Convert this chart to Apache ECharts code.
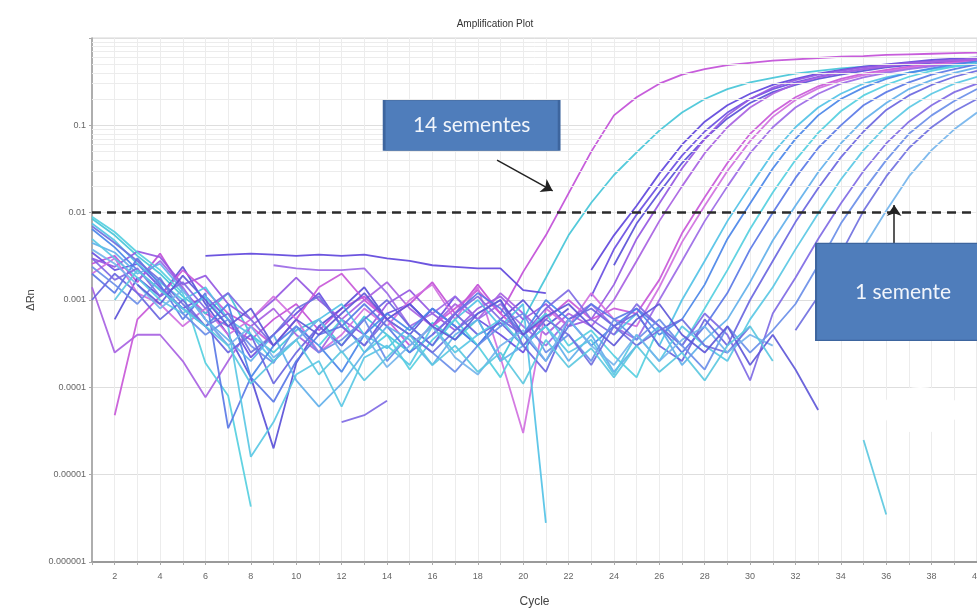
<!DOCTYPE html>
<html>
<head>
<meta charset="utf-8">
<script src="https://cdn.jsdelivr.net/npm/echarts@6/dist/echarts.min.js"></script>
<style>
  html, body { margin: 0; padding: 0; background: #fff; }
  #chart { width: 977px; height: 609px; }
</style>
</head>
<body>
<div id="chart"></div>
<script>
// cycles on the x axis
var cycles = [1, 2, 3, 4, 5, 6, 7, 8, 9, 10, 11, 12, 13, 14, 15, 16, 17, 18, 19, 20,
  21, 22, 23, 24, 25, 26, 27, 28, 29, 30, 31, 32, 33, 34, 35, 36, 37, 38, 39, 40]

var yTickLabels = ['0.000001', '0.00001', '0.0001', '0.001', '0.01', '0.1', '']
var threshold = 0.0127

// ΔRn per well, cycle 1..40 (null = not drawn)
var well01 = [2.6e-3, 3.2e-3, 1.6e-3, 3.4e-3, 1.3e-3, 7e-4, 5e-4, 3.5e-4, 6e-4, 9e-4, 4.5e-4, 8e-4, 1.1e-3, 6e-4, 9e-4, 1.6e-3, 7e-4, 1.5e-3, 7e-4, 2.1e-3, 5.5e-3, 0.0166, 0.05, 0.13, 0.21, 0.3, 0.38, 0.44, 0.49, 0.52, 0.55, 0.57, 0.59, 0.61, 0.62, 0.64, 0.65, 0.66, 0.67, 0.68]
var well02 = [8.5e-3, 5.5e-3, 3.2e-3, 2e-3, 1.1e-3, 7e-4, 1.2e-3, 4e-4, 2.5e-4, 4.5e-4, 6e-4, 3e-4, 6.5e-4, 4e-4, 2.5e-4, 5.5e-4, 3.5e-4, 6e-4, 2e-4, 6e-4, 1.8e-3, 5.5e-3, 0.013, 0.027, 0.049, 0.087, 0.14, 0.2, 0.26, 0.31, 0.35, 0.39, 0.42, 0.45, 0.47, 0.49, 0.51, 0.53, 0.54, 0.56]
var well03 = [null, null, null, null, null, 3.2e-3, 3.3e-3, 3.4e-3, 3.3e-3, 3.2e-3, 3.3e-3, 3.2e-3, 3.3e-3, 3.0e-3, 2.8e-3, 2.5e-3, 2.4e-3, 2.3e-3, 2.3e-3, 1.3e-3, 1.2e-3, null, 2.2e-3, 5.5e-3, 0.012, 0.028, 0.06, 0.11, 0.17, 0.23, 0.29, 0.34, 0.39, 0.43, 0.47, 0.5, 0.53, 0.56, 0.58, 0.6]
var well04 = [3.5e-3, 2.2e-3, 2.6e-3, 1.4e-3, 8e-4, 1.1e-3, 6e-4, 2.2e-4, 4e-4, 7e-4, 1.2e-3, 5e-4, 3e-4, 7e-4, 9e-4, 5e-4, 1.1e-3, 6e-4, 4e-4, 2.5e-4, 7e-4, null, 1.1e-3, 3.8e-3, 9.5e-3, 0.021, 0.045, 0.085, 0.14, 0.2, 0.26, 0.31, 0.36, 0.4, 0.44, 0.47, 0.5, 0.53, 0.55, 0.57]
var well05 = [null, 6e-4, 1.8e-3, 1.1e-3, 2.4e-3, 9e-4, 4e-4, 1.3e-4, 2e-5, 1.9e-4, 5e-4, 8e-4, 1.4e-3, 6e-4, 4e-4, 8e-4, 5e-4, 3e-4, 6e-4, 1e-3, 5e-4, 8e-4, null, 2.5e-3, 7.5e-3, 0.017, 0.037, 0.07, 0.12, 0.18, 0.24, 0.29, 0.34, 0.38, 0.42, 0.46, 0.49, 0.52, 0.54, 0.56]
var well06 = [3e-3, 2.4e-3, 3.6e-3, 3.1e-3, 1.5e-3, 1.9e-3, 9e-4, 6e-4, 1e-3, 1.8e-3, 1e-3, 6e-4, 4e-4, 9e-4, 1.3e-3, 7e-4, 4.5e-4, 8e-4, 1.1e-3, 6e-4, 9e-4, 5e-4, 6e-4, 1.5e-3, 5e-3, 0.0127, 0.032, 0.07, 0.13, 0.2, 0.27, 0.33, 0.38, 0.42, 0.46, 0.49, 0.52, 0.54, 0.56, 0.58]
var well07 = [1.4e-3, 2.5e-4, 4e-4, 4e-4, 2e-4, 7.7e-5, 2e-4, 5e-4, 8e-4, 4e-4, 2.5e-4, 6e-4, 1e-3, 1.6e-3, 8e-4, 5e-4, 9e-4, 6e-4, 1.2e-3, 7e-4, 4e-4, 7e-4, 5e-4, 1e-3, 2.8e-3, 8e-3, 0.02, 0.048, 0.095, 0.16, 0.23, 0.3, 0.355, 0.4, 0.44, 0.475, 0.505, 0.53, 0.55, 0.57]
var well08 = [null, 4.8e-5, 6e-4, 1.1e-3, 2.2e-3, 1.3e-3, 7e-4, 5e-4, 3e-4, 6e-4, 1.4e-3, 2e-3, 1e-3, 6e-4, 3e-4, 5e-4, 8e-4, 1.3e-3, 7e-4, 4e-4, 6e-4, 1e-3, 6e-4, 8e-4, 7e-4, 1.7e-3, 5.8e-3, 0.015, 0.037, 0.08, 0.14, 0.21, 0.28, 0.34, 0.39, 0.43, 0.47, 0.5, 0.53, 0.55]
var well09 = [2e-3, 3e-3, 1.2e-3, 9e-4, 5e-4, 8e-4, 4e-4, 6e-4, 1.1e-3, 6e-4, 2.5e-4, 4e-4, 8e-4, 5e-4, 1e-3, 1.5e-3, 6e-4, 1.4e-3, 2.2e-4, 3e-5, 8e-4, 5e-4, 1.2e-3, 6e-4, 5e-4, 1.4e-3, 4.6e-3, 0.012, 0.03, 0.066, 0.125, 0.195, 0.265, 0.325, 0.375, 0.415, 0.455, 0.485, 0.515, 0.54]
var well10 = [null, null, 1.7e-3, 2.8e-3, 1.4e-3, 6e-4, 3e-4, null, 2.5e-3, 2.3e-3, 2.2e-3, 2.2e-3, 2.3e-3, 1.2e-3, 5e-4, 7e-4, 1.1e-3, 6e-4, 9e-4, 5e-4, 3e-4, 6e-4, 9e-4, 5e-4, 3.5e-4, 1e-3, 2.8e-3, 8e-3, 0.02, 0.048, 0.095, 0.16, 0.23, 0.3, 0.355, 0.4, 0.44, 0.475, 0.505, 0.53]
var well11 = [7.5e-3, 4.8e-3, 2.6e-3, 1.6e-3, 1e-3, 1.4e-3, 6e-4, 4e-4, 2e-4, 3.5e-4, 6e-4, 9e-4, 4e-4, 2.8e-4, 5e-4, 3e-4, 6e-4, 1e-3, 5e-4, 9e-4, 2.8e-6, null, null, 4e-4, 7e-4, 3e-4, 1e-3, 2.8e-3, 8e-3, 0.02, 0.048, 0.095, 0.16, 0.23, 0.3, 0.355, 0.4, 0.44, 0.475, 0.5]
var well12 = [6.5e-3, 4e-3, 2.2e-3, 1.3e-3, 8e-4, 5e-4, 9e-4, 1.3e-4, 3e-4, 5e-4, 3e-4, 1.5e-4, 4e-4, 7e-4, 4.5e-4, 8e-4, 5e-4, 3e-4, 6e-4, 4e-4, 1e-3, 6e-4, 3e-4, 5e-4, 8e-4, 4e-4, 6e-4, 1.5e-3, 5e-3, 0.0127, 0.032, 0.07, 0.13, 0.2, 0.27, 0.34, 0.4, 0.45, 0.5, 0.54]
var well13 = [9e-3, 6e-3, 3.5e-3, 2.2e-3, 1.2e-3, 1.9e-4, 8e-5, 4.3e-6, null, null, 3e-4, 6e-4, 2.5e-4, 4e-4, 1.6e-4, 3.5e-4, 6e-4, 3e-4, 1.3e-4, 4e-4, 7e-4, 3e-4, 4.5e-4, 2.3e-4, 1.3e-4, 5e-4, 3e-4, 8e-4, 2.2e-3, 6.5e-3, 0.017, 0.04, 0.082, 0.145, 0.22, 0.29, 0.36, 0.42, 0.47, 0.52]
var well14 = [2e-3, 1.2e-3, 3e-3, 1.5e-3, 6e-4, 1.2e-3, 3.4e-5, 1.3e-4, 6.8e-5, 2e-4, 4e-4, 5e-4, 9e-4, 5e-4, 2.5e-4, 4e-4, 7e-4, 1.2e-3, 8e-4, 4e-4, 2e-4, 5e-4, 9e-4, 6e-4, 8e-4, 5e-4, 2.5e-4, 5e-4, 1.2e-3, 3.8e-3, 0.01, 0.025, 0.055, 0.1, 0.17, 0.24, 0.31, 0.38, 0.44, 0.5]
var well15 = [4.5e-3, 3.5e-3, 2e-3, 2.6e-3, 1.3e-3, 6e-4, 3.5e-4, 2e-4, 4e-4, 1.2e-4, 6e-5, 1.1e-4, 2.5e-4, 5e-4, 3.5e-4, 1.8e-4, 4e-4, 6e-4, 2e-4, 3e-4, 5e-4, 2e-4, 4e-4, 1.5e-4, 3e-4, 5e-4, 1.8e-4, 3.5e-4, 6e-4, 1.6e-3, 4.8e-3, 0.012, 0.029, 0.062, 0.115, 0.18, 0.26, 0.33, 0.4, 0.46]
var well16 = [1e-3, 2e-3, 1.2e-3, 6e-4, 1e-3, 5e-4, 2.5e-4, 4e-4, 1.1e-4, 2.5e-4, 5e-4, 3e-4, 6e-4, 1e-3, 5e-4, 3e-4, 7e-4, 4e-4, 5.5e-4, 3e-4, 1.5e-4, 6e-4, 8e-4, 5e-4, 7e-4, 3e-4, 2e-4, 6e-4, 3e-4, 1e-3, 2.8e-3, 7.8e-3, 0.019, 0.043, 0.085, 0.15, 0.22, 0.29, 0.36, 0.42]
var well17 = [5e-3, 3e-3, 1.8e-3, 1e-3, 7e-4, 1.1e-3, 5e-4, 1.6e-5, 4e-5, 1.4e-4, 2e-4, 6e-5, 2.2e-4, 3e-4, 1.8e-4, 5e-4, 2.5e-4, 4e-4, 6e-4, 3e-4, 5e-4, 2.5e-4, 3.5e-4, 1.4e-4, 4e-4, 2e-4, 5e-4, 3e-4, 2e-4, 6e-4, 1.4e-3, 3.8e-3, 9.8e-3, 0.024, 0.052, 0.098, 0.16, 0.23, 0.3, 0.36]
var well18 = [3e-3, 1.7e-3, 2.3e-3, 1.1e-3, 1.6e-3, 8e-4, 1.2e-3, 6e-4, 3e-4, null, null, 4e-5, 4.8e-5, 7e-5, null, 4e-4, 7e-4, 1.1e-3, 6e-4, 4e-4, 8e-4, 1.3e-3, 6e-4, 4e-4, 9e-4, 5e-4, 3e-4, 7e-4, 4e-4, 1.2e-4, 7e-4, 1.8e-3, 5e-3, 0.0127, 0.03, 0.062, 0.11, 0.17, 0.24, 0.3]
var well19 = [2.4e-3, 1.5e-3, 9e-4, 1.8e-3, 7e-4, 4e-4, 6e-4, 3e-4, 1.9e-4, 5e-4, 2.5e-4, 3.5e-4, 6e-4, 2e-4, 4e-4, 2.5e-4, 1.5e-4, 3e-4, 5e-4, 7e-4, 2.5e-4, 4e-4, 2e-4, 6e-4, 3.5e-4, 6e-4, 3e-4, 1.6e-4, 5e-4, 2.5e-4, 4.5e-4, 9e-4, 2.5e-3, 7.5e-3, 0.018, 0.04, 0.08, 0.13, 0.19, 0.26]
var well20 = [7e-3, 4.5e-3, 2.8e-3, 1.7e-3, 9e-4, 5e-4, 7e-4, 2.5e-4, 4e-4, 8e-4, 1.1e-3, 5e-4, 3e-4, 6e-4, 4e-4, 2.5e-4, 4.5e-4, 7e-4, 1e-3, 3e-4, 6e-4, 4e-4, 1.8e-4, 5e-4, 3e-4, 4.5e-4, 6e-4, 3e-4, 2.5e-4, 5e-4, null, 4.5e-4, 1.1e-3, 3.4e-3, 0.0105, 0.026, 0.055, 0.095, 0.145, 0.2]
var well21 = [3.8e-3, 2.6e-3, 1.5e-3, 8e-4, 1.3e-3, 6e-4, 3e-4, 5e-4, 2.2e-4, 3.5e-4, 6e-4, 2.5e-4, 4e-4, 1.7e-4, 3e-4, 5e-4, 2.2e-4, 1.4e-4, 3e-4, 4.5e-4, 2e-4, 6e-4, 3e-4, 1.8e-4, 4e-4, 2e-4, 3.5e-4, 5e-4, 2.5e-4, 4e-4, 3e-4, null, 4.5e-4, 1.2e-3, 4e-3, 0.0105, 0.026, 0.052, 0.09, 0.14]
var well22 = [null, null, 1.5e-3, 9e-4, 1.9e-3, 1e-3, 5e-4, 8e-4, 3e-4, 6e-4, 4e-4, 7e-4, 1.2e-3, 6e-4, 9e-4, 5e-4, 3.5e-4, 7e-4, 1e-3, 4e-4, 6.5e-4, 9e-4, 5e-4, 3e-4, 6e-4, 9e-4, 4e-4, 2.5e-4, 5e-4, 1.8e-4, 4e-4, 1.6e-4, 5.5e-5, null, null, null, null, null, null, null]
var well23 = [null, 1e-3, 2.2e-3, 1.3e-3, 8e-4, 5e-4, 3e-4, 1.1e-4, 2e-4, 3.5e-4, 1.4e-4, 2.6e-4, 1.2e-4, 2.2e-4, 4e-4, 1.8e-4, 3e-4, 1.5e-4, 2.5e-4, 1.1e-4, 3.5e-4, 1.7e-4, 2.8e-4, 1.3e-4, 3e-4, 1.5e-4, 2.5e-4, 1.2e-4, 3e-4, 5e-4, 2e-4, null, null, null, 2.5e-5, 3.5e-6, null, null, null, null]

var wells = [well01, well02, well03, well04, well05, well06, well07, well08, well09, well10, well11, well12,
  well13, well14, well15, well16, well17, well18, well19, well20, well21, well22, well23]
var wellColors = ['#c24fd8', '#45c6d8', '#5f46dc', '#6a4fe2', '#5a50d8', '#9558e2', '#a862e2', '#c858d8',
  '#d070e0', '#9c6ae6', '#52c2e6', '#4a86e8', '#55cfe0', '#5a78e6', '#62b0ea', '#6a66e0', '#5ac8e4',
  '#7f6ae4', '#6a8ee8', '#7070e0', '#74b4ec', '#6058d8', '#5cc8e0']

var chart = echarts.init(document.getElementById('chart'))

// light minor grid lines between decades
var minorLines = []
for (var e = -6; e < 0; e++) {
  for (var m = 2; m <= 9; m++) {
    minorLines.push({ yAxis: m * Math.pow(10, e) })
  }
}

var series = wells.map(function (vals, i) {
  return {
    type: 'line',
    data: cycles.map(function (c, j) { return [c, vals[j] == null ? '-' : vals[j]] }),
    showSymbol: false,
    symbol: 'none',
    silent: true,
    z: 3,
    lineStyle: { color: wellColors[i], width: 1.8, opacity: 0.92 }
  }
})

// grid, threshold and the annotations
series.unshift({
  type: 'line',
  data: [],
  silent: true,
  z: 1,
  markLine: {
    silent: true,
    symbol: 'none',
    label: { show: false },
    animation: false,
    lineStyle: { color: '#ececec', width: 1, type: 'solid' },
    data: minorLines
  }
})
series.push({
  type: 'line',
  data: [],
  silent: true,
  z: 10,
  markLine: {
    silent: true,
    symbol: 'none',
    label: { show: false },
    animation: false,
    data: [
      { yAxis: threshold, lineStyle: { color: '#2b2b2b', width: 2.5, type: [9, 6] } },
      [{ coord: [18.85, 0.04], symbol: 'none' }, { coord: [21.3, 0.0178], symbol: 'arrow', symbolSize: 11 }],
      [{ coord: [36.35, 0.0045], symbol: 'none' }, { coord: [36.35, 0.0122], symbol: 'arrow', symbolSize: 11 }]
    ],
    lineStyle: { color: '#222', width: 1.5, type: 'solid' }
  },
  markPoint: {
    silent: true,
    animation: false,
    data: [
      {
        coord: [37.5, 5.5e-5], symbol: 'circle', symbolSize: [76, 46],
        itemStyle: { color: '#fff' }, label: { show: false }
      },
      {
        coord: [17.73, 0.1], symbol: 'rect', symbolSize: [175, 50],
        itemStyle: { color: '#4f7dbb', borderColor: '#3d659e', borderWidth: 1.5 },
        label: { show: true, position: 'inside', formatter: '14 sementes', color: '#f1f5fb', fontSize: 21, fontFamily: 'Lato' }
      },
      {
        coord: [36.74, 0.00124], symbol: 'rect', symbolSize: [174, 97],
        itemStyle: { color: '#4f7dbb', borderColor: '#3d659e', borderWidth: 1.5 },
        label: { show: true, position: 'inside', formatter: '1 semente', color: '#f1f5fb', fontSize: 21, fontFamily: 'Lato' }
      }
    ]
  }
})

chart.setOption({
  animation: false,
  backgroundColor: '#fff',
  title: {
    text: 'Amplification Plot',
    left: 490,
    top: 14,
    textAlign: 'center',
    textStyle: { fontSize: 10, fontWeight: 'normal', color: '#333', fontFamily: 'Liberation Sans Narrow, Liberation Sans, sans-serif' }
  },
  grid: {
    left: 92,
    right: 0,
    top: 38,
    bottom: 47,
    outerBoundsMode: 'none',
    show: true,
    borderColor: '#d6d6d6',
    borderWidth: 1
  },
  xAxis: {
    type: 'value',
    min: 1,
    max: 40,
    interval: 1,
    name: 'Cycle',
    nameLocation: 'middle',
    nameGap: 34,
    nameTextStyle: { fontSize: 12, color: '#444', fontFamily: 'Liberation Sans Narrow, Liberation Sans, sans-serif' },
    axisLine: { show: true, onZero: false, lineStyle: { color: '#9a9a9a', width: 2 } },
    axisTick: { show: true, length: 3, lineStyle: { color: '#aaa' } },
    axisLabel: {
      fontSize: 9,
      color: '#666',
      margin: 10,
      formatter: function (v) { return v % 2 === 0 ? String(v) : '' }
    },
    splitLine: { show: true, lineStyle: { color: '#ececec', width: 1 } }
  },
  yAxis: {
    type: 'log',
    logBase: 10,
    min: 1e-6,
    max: 1,
    name: 'ΔRn',
    nameLocation: 'middle',
    nameGap: 56,
    nameTextStyle: { fontSize: 11, color: '#444', fontFamily: 'Liberation Sans Narrow, Liberation Sans, sans-serif' },
    axisLine: { show: true, lineStyle: { color: '#9a9a9a', width: 1.5 } },
    axisTick: { show: true, length: 3, lineStyle: { color: '#aaa' } },
    axisLabel: {
      fontSize: 9,
      color: '#666',
      margin: 6,
      formatter: function (v) {
        var k = Math.round(Math.log(v) / Math.LN10) + 6
        return yTickLabels[k] || ''
      }
    },
    splitLine: { show: true, lineStyle: { color: '#dedede', width: 1 } }
  },
  series: series
})
</script>
</body>
</html>
